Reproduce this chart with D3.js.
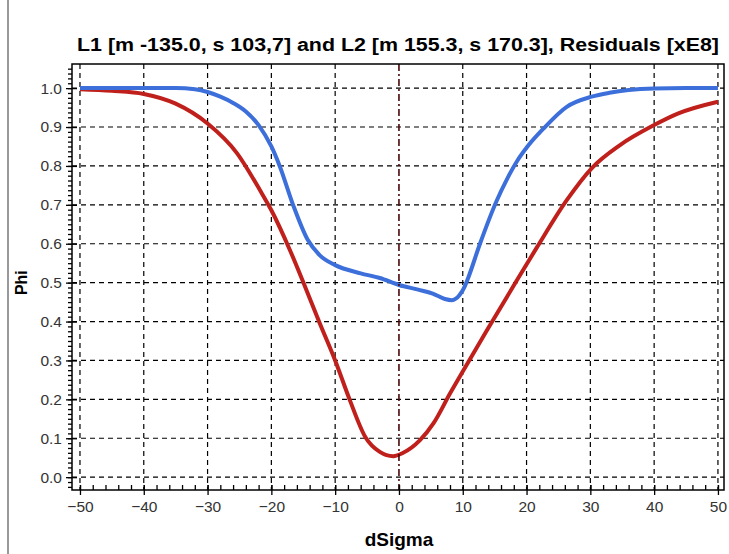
<!DOCTYPE html>
<html>
<head>
<meta charset="utf-8">
<script src="https://cdn.jsdelivr.net/npm/d3@7"></script>
<style>
  body { margin: 0; background: #fff; }
  svg { display: block; font-family: "Liberation Sans", Arial, sans-serif; }
</style>
</head>
<body>
<svg id="chart" width="729" height="554"></svg>
<script>
// values
var titleText = "L1 [m -135.0, s 103,7] and L2 [m 155.3, s 170.3], Residuals [xE8]";
var xLabel = "dSigma";
var yLabel = "Phi";

var xTicks = [-50, -40, -30, -20, -10, 0, 10, 20, 30, 40, 50];
var yTicks = [0, 0.1, 0.2, 0.3, 0.4, 0.5, 0.6, 0.7, 0.8, 0.9, 1.0];

// blue curve (L1)
var blueX = [-50, -40, -35, -32, -30, -28, -26, -24, -22, -20, -18.7, -16.6, -14.3, -12.4, -10, -6, -3, 0, 3, 5.3, 7.2, 8.3, 9.5, 10.3, 10.8, 12.7, 15.3, 16.9, 18.5, 20.3, 22.6, 26.3, 30.2, 33, 36, 40, 45, 50];
var blueY = [1.0, 1.0, 1.0, 0.997, 0.99, 0.978, 0.962, 0.94, 0.905, 0.85, 0.80, 0.70, 0.61, 0.57, 0.545, 0.524, 0.512, 0.494, 0.482, 0.472, 0.458, 0.455, 0.468, 0.49, 0.51, 0.60, 0.71, 0.765, 0.812, 0.853, 0.895, 0.952, 0.978, 0.988, 0.995, 0.999, 1.0, 1.0];

// red curve (L2)
var redX = [-50, -45, -40, -35, -30, -25.4, -21.8, -20, -17.1, -14.7, -12.4, -10, -7.7, -5.3, -3, -0.9, 0.6, 3.3, 5.4, 8, 10.3, 13.7, 17.9, 21.6, 26.3, 30.2, 34.6, 40, 43.8, 50];
var redY = [0.997, 0.993, 0.985, 0.96, 0.909, 0.833, 0.738, 0.686, 0.584, 0.489, 0.395, 0.30, 0.198, 0.104, 0.065, 0.054, 0.062, 0.095, 0.138, 0.215, 0.28, 0.375, 0.49, 0.59, 0.712, 0.794, 0.853, 0.905, 0.935, 0.965];

var svg = d3.select("#chart");
var margin = {left: 72, right: 5, top: 64, bottom: 64};
var W = 729, H = 554;

var x = d3.scaleLinear().domain([-51.25, 50.95]).range([margin.left, W - margin.right]);
var y = d3.scaleLinear().domain([-0.033, 1.062]).range([H - margin.bottom, margin.top]);

// grey separator at far left
svg.append("line")
    .attr("x1", 8).attr("x2", 8).attr("y1", 0).attr("y2", H)
    .style("stroke", "#999").style("stroke-width", 2);

// grid
var grid = svg.append("g");
grid.selectAll("line.gx")
    .data(xTicks.filter(function(d) { return d !== 0; }))
    .enter().append("line")
    .attr("class", "gx")
    .attr("x1", function(d) { return x(d); }).attr("x2", function(d) { return x(d); })
    .attr("y1", y.range()[1]).attr("y2", y.range()[0])
    .style("stroke", "#000").style("stroke-width", 1.2)
    .style("stroke-dasharray", "5,4");
grid.selectAll("line.gy")
    .data(yTicks)
    .enter().append("line")
    .attr("class", "gy")
    .attr("x1", x.range()[0]).attr("x2", x.range()[1])
    .attr("y1", function(d) { return y(d); }).attr("y2", function(d) { return y(d); })
    .style("stroke", "#000").style("stroke-width", 1.2)
    .style("stroke-dasharray", "5,4");

// curves
var line = d3.line()
    .x(function(d) { return x(d[0]); })
    .y(function(d) { return y(d[1]); })
    .curve(d3.curveMonotoneX);

svg.append("path")
    .datum(d3.zip(redX, redY))
    .attr("d", line)
    .style("fill", "none").style("stroke", "#c0201c").style("stroke-width", 4)
    .style("stroke-linejoin", "round");
svg.append("path")
    .datum(d3.zip(blueX, blueY))
    .attr("d", line)
    .style("fill", "none").style("stroke", "#3d6fdb").style("stroke-width", 4)
    .style("stroke-linejoin", "round");

// zero marker line, dash-dot
svg.append("line")
    .attr("x1", x(0)).attr("x2", x(0))
    .attr("y1", y.range()[1]).attr("y2", y.range()[0])
    .style("stroke", "#4a0808").style("stroke-width", 1.6)
    .style("stroke-dasharray", "7,3,2,3");

// frame
svg.append("rect")
    .attr("x", x.range()[0]).attr("y", y.range()[1])
    .attr("width", x.range()[1] - x.range()[0])
    .attr("height", y.range()[0] - y.range()[1])
    .style("fill", "none").style("stroke", "#000").style("stroke-width", 1.5);

// axes
svg.append("g")
    .attr("transform", "translate(0," + y.range()[0] + ")")
    .call(d3.axisBottom(x).tickValues(xTicks).tickSize(5).tickPadding(6));
svg.append("g")
    .attr("transform", "translate(0," + y.range()[0] + ")")
    .call(d3.axisTop(x).tickValues(d3.range(-50, 51, 2)).tickSize(5).tickFormat(""));
svg.append("g")
    .attr("transform", "translate(0," + y.range()[0] + ")")
    .call(d3.axisTop(x).tickValues(xTicks).tickSize(5).tickFormat(""));

svg.append("g")
    .attr("transform", "translate(" + x.range()[0] + ",0)")
    .call(d3.axisLeft(y).tickValues(yTicks).tickSize(6).tickPadding(4).tickFormat(d3.format(".1f")));
svg.append("g")
    .attr("transform", "translate(" + x.range()[0] + ",0)")
    .call(d3.axisLeft(y).tickValues(d3.range(-0.025, 1.06, 0.0125)).tickSize(4).tickFormat(""));
svg.append("g")
    .attr("transform", "translate(" + x.range()[0] + ",0)")
    .call(d3.axisRight(y).tickValues(yTicks).tickSize(5).tickFormat(""));

svg.selectAll(".domain").remove();
svg.selectAll(".tick line").style("stroke", "#000").style("stroke-width", 1.3);
svg.selectAll(".tick text")
    .style("font-size", "15.5px").style("fill", "#333")
    .style("font-family", "'Liberation Sans', Arial, sans-serif");

// titles
svg.append("text")
    .attr("x", (x.range()[0] + x.range()[1]) / 2).attr("y", 51)
    .attr("text-anchor", "middle")
    .attr("textLength", 642).attr("lengthAdjust", "spacingAndGlyphs")
    .style("font-size", "18px").style("font-weight", "bold")
    .text(titleText);
svg.append("text")
    .attr("x", x(0)).attr("y", 546)
    .attr("text-anchor", "middle")
    .style("font-size", "19px").style("font-weight", "bold")
    .text(xLabel);
svg.append("text")
    .attr("transform", "translate(27," + y(0.5) + ") rotate(-90)")
    .attr("text-anchor", "middle")
    .style("font-size", "16px").style("font-weight", "bold")
    .text(yLabel);
</script>
</body>
</html>
